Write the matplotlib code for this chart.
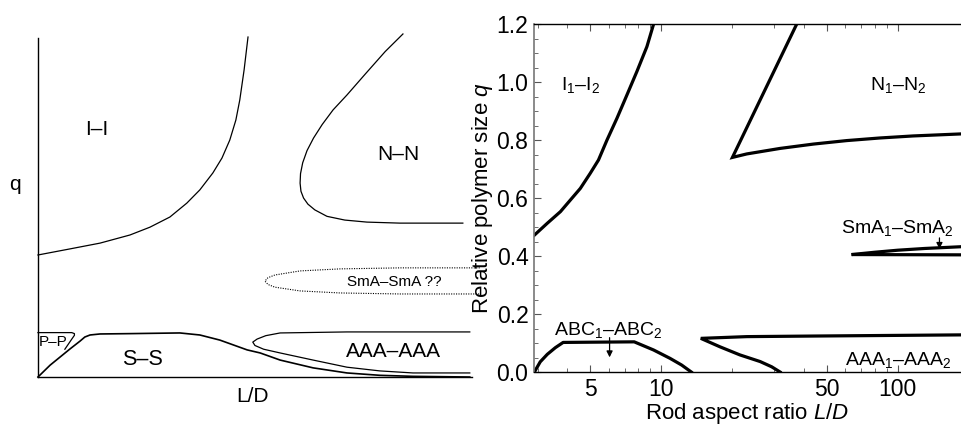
import matplotlib.pyplot as plt
from matplotlib.ticker import FixedLocator, FixedFormatter, NullFormatter

plt.rcParams['font.family'] = ['Liberation Sans', 'DejaVu Sans']
plt.rcParams['mathtext.fontset'] = 'custom'
plt.rcParams['mathtext.rm'] = 'Liberation Sans'
plt.rcParams['mathtext.it'] = 'Liberation Sans:italic'

# ---- left panel: schematic, coordinates in axes fractions (0..1) ----
ii_x = [0, 0.074, 0.143, 0.212, 0.258, 0.304, 0.343, 0.373, 0.403, 0.424, 0.442, 0.456, 0.465, 0.475, 0.484]
ii_y = [0.360, 0.378, 0.395, 0.419, 0.442, 0.472, 0.513, 0.552, 0.602, 0.646, 0.699, 0.758, 0.817, 0.906, 1.003]

nn_x = [0.841, 0.800, 0.755, 0.712, 0.680, 0.655, 0.635, 0.620, 0.610, 0.605, 0.604, 0.606, 0.612,
        0.622, 0.638, 0.666, 0.707, 0.758, 0.834, 0.979]
nn_y = [1.012, 0.960, 0.895, 0.832, 0.788, 0.745, 0.705, 0.668, 0.632, 0.600, 0.572, 0.548, 0.528,
        0.510, 0.493, 0.474, 0.463, 0.457, 0.454, 0.454]

sma_x = [1.018, 0.834, 0.696, 0.604, 0.546, 0.530, 0.523, 0.530, 0.546, 0.604, 0.696, 0.834, 1.018]
sma_y = [0.322, 0.322, 0.319, 0.313, 0.301, 0.293, 0.283, 0.273, 0.265, 0.254, 0.248, 0.245, 0.245]

pp_x = [0, 0.078, 0.084, 0.084, 0.078, 0.070, 0.062]
pp_y = [0.131, 0.131, 0.128, 0.123, 0.112, 0.097, 0.082]

ss_x = [0, 0.028, 0.051, 0.074, 0.097, 0.108, 0.120, 0.143, 0.212, 0.327, 0.373, 0.419, 0.482,
        0.512, 0.558, 0.634, 0.712, 0.788, 0.864, 0.995]
ss_y = [0, 0.035, 0.059, 0.083, 0.106, 0.118, 0.124, 0.127, 0.128, 0.130, 0.124, 0.109, 0.080,
        0.071, 0.050, 0.027, 0.012, 0.005, 0.002, 0.0]

aaa_x = [0.995, 0.712, 0.558, 0.525, 0.505, 0.495, 0.500, 0.520, 0.558, 0.634, 0.712, 0.788, 0.864, 0.995]
aaa_y = [0.133, 0.133, 0.130, 0.122, 0.112, 0.103, 0.093, 0.082, 0.071, 0.050, 0.029, 0.018, 0.012, 0.012]

# ---- right panel: computed diagram, x = L/D (log), y = q ----
i_x = [2.91, 3.30, 3.75, 4.13, 4.55, 5.01, 5.43, 5.90, 6.50, 7.16, 7.89, 8.70, 9.28]
i_y = [0.472, 0.513, 0.553, 0.593, 0.633, 0.685, 0.731, 0.800, 0.875, 0.955, 1.036, 1.122, 1.199]

n_x = [37.4, 20.0, 23.0, 31.8, 44.0, 60.8, 84.0, 116, 185]
n_y = [1.2, 0.740, 0.752, 0.771, 0.786, 0.798, 0.807, 0.814, 0.821]

smA_x = [185, 130, 100, 80, 63.8, 185]
smA_y = [0.432, 0.426, 0.420, 0.413, 0.405, 0.404]

abc_x = [2.91, 3.08, 3.30, 3.57, 3.85, 7.69, 9.28, 10.9, 12.2, 13.4]
abc_y = [0.0, 0.035, 0.061, 0.084, 0.102, 0.104, 0.076, 0.047, 0.024, 0.0]

aaa2_x = [185, 44, 23, 14.7, 17.7, 21.5, 26.2, 29.3, 31.8]
aaa2_y = [0.128, 0.124, 0.122, 0.116, 0.087, 0.059, 0.036, 0.018, 0.0]

fig = plt.figure(figsize=(9.61, 4.25), dpi=100)

# left schematic
axl = fig.add_axes([0.0395, 0.1129, 0.4516, 0.7976])
axl.set_xlim(0, 1)
axl.set_ylim(0, 1)
for s in ['top', 'right']:
    axl.spines[s].set_visible(False)
axl.spines['left'].set_linewidth(1.0)
axl.spines['bottom'].set_linewidth(1.0)
axl.set_xticks([])
axl.set_yticks([])
lw = 0.9
axl.plot(ii_x, ii_y, color='black', lw=lw, clip_on=False)
axl.plot(nn_x, nn_y, color='black', lw=lw, clip_on=False)
axl.plot(sma_x, sma_y, color='black', lw=0.8, ls=(0, (1, 1.2)), clip_on=False)
axl.plot(pp_x, pp_y, color='black', lw=lw, clip_on=False)
axl.plot(ss_x, ss_y, color='black', lw=1.2, clip_on=False)
axl.plot(aaa_x, aaa_y, color='black', lw=lw, clip_on=False)

axl.text(0.135, 0.73, 'I–I', fontsize=15, ha='center', va='center')
axl.text(0.83, 0.655, 'N–N', fontsize=15, ha='center', va='center')
axl.text(0.822, 0.28, 'SmA–SmA ??', fontsize=11, ha='center', va='center')
axl.text(0.035, 0.103, 'P–P', fontsize=11, ha='center', va='center')
axl.text(0.24, 0.053, 'S–S', fontsize=15.5, ha='center', va='center')
axl.text(0.818, 0.075, 'AAA–AAA', fontsize=15, ha='center', va='center')
fig.text(15 / 961, 1 - 185 / 425, 'q', fontsize=15, ha='center', va='center')
fig.text(253 / 961, 1 - 397 / 425, 'L/D', fontsize=15, ha='center', va='center')

# right computed diagram
ax = fig.add_axes([0.5557, 0.1247, 0.4443, 0.8188])
ax.set_xscale('log')
ax.set_xlim(2.9, 185)
ax.set_ylim(0, 1.2)
lw2 = 2.3
ax.plot(i_x, i_y, color='black', lw=lw2, solid_joinstyle='round')
ax.plot(n_x, n_y, color='black', lw=lw2, solid_joinstyle='miter')
ax.plot(smA_x, smA_y, color='black', lw=lw2, solid_joinstyle='miter')
ax.plot(abc_x, abc_y, color='black', lw=lw2, solid_joinstyle='round')
ax.plot(aaa2_x, aaa2_y, color='black', lw=lw2, solid_joinstyle='miter')

ax.spines['right'].set_visible(False)
ax.spines['left'].set_color('#777777')
ax.spines['left'].set_linewidth(1.2)
ax.spines['bottom'].set_linewidth(1.0)
ax.spines['top'].set_linewidth(1.0)

ax.xaxis.set_major_locator(FixedLocator([5, 10, 50, 100]))
ax.xaxis.set_major_formatter(FixedFormatter(['5', '10', '50', '100']))
ax.xaxis.set_minor_locator(FixedLocator([3, 4, 6, 7, 8, 9, 20, 30, 40, 60, 70, 80, 90]))
ax.xaxis.set_minor_formatter(NullFormatter())
ax.set_yticks([0, 0.2, 0.4, 0.6, 0.8, 1.0, 1.2])
ax.set_yticklabels(['0.0', '0.2', '0.4', '0.6', '0.8', '1.0', '1.2'])
ax.yaxis.set_minor_locator(FixedLocator([0.05 * k for k in range(25)]))
ax.tick_params(which='both', direction='in', top=True, right=False, color='#555555', labelsize=16.5)
ax.tick_params(which='major', length=5, width=0.8, pad=4)
ax.tick_params(which='minor', length=3, width=0.6)

ax.set_xlabel('Rod aspect ratio $L/D$', fontsize=16, labelpad=0)
ax.set_ylabel('Relative polymer size $q$', fontsize=16, labelpad=1)

ax.text(4.55, 0.99, 'I$_1$–I$_2$', fontsize=14, ha='center', va='center')
ax.text(100, 0.99, 'N$_1$–N$_2$', fontsize=14, ha='center', va='center')
ax.text(100, 0.497, 'SmA$_1$–SmA$_2$', fontsize=14, ha='center', va='center')
ax.text(5.98, 0.145, 'ABC$_1$–ABC$_2$', fontsize=14, ha='center', va='center')
ax.text(100, 0.041, 'AAA$_1$–AAA$_2$', fontsize=14, ha='center', va='center')

ax.annotate('', xy=(6.05, 0.041), xytext=(6.05, 0.128),
            arrowprops=dict(arrowstyle='-|>', color='black', lw=0.9, mutation_scale=9))
ax.annotate('', xy=(150, 0.415), xytext=(150, 0.472),
            arrowprops=dict(arrowstyle='-|>', color='black', lw=0.9, mutation_scale=9))

fig.savefig('out.png', dpi=100)
